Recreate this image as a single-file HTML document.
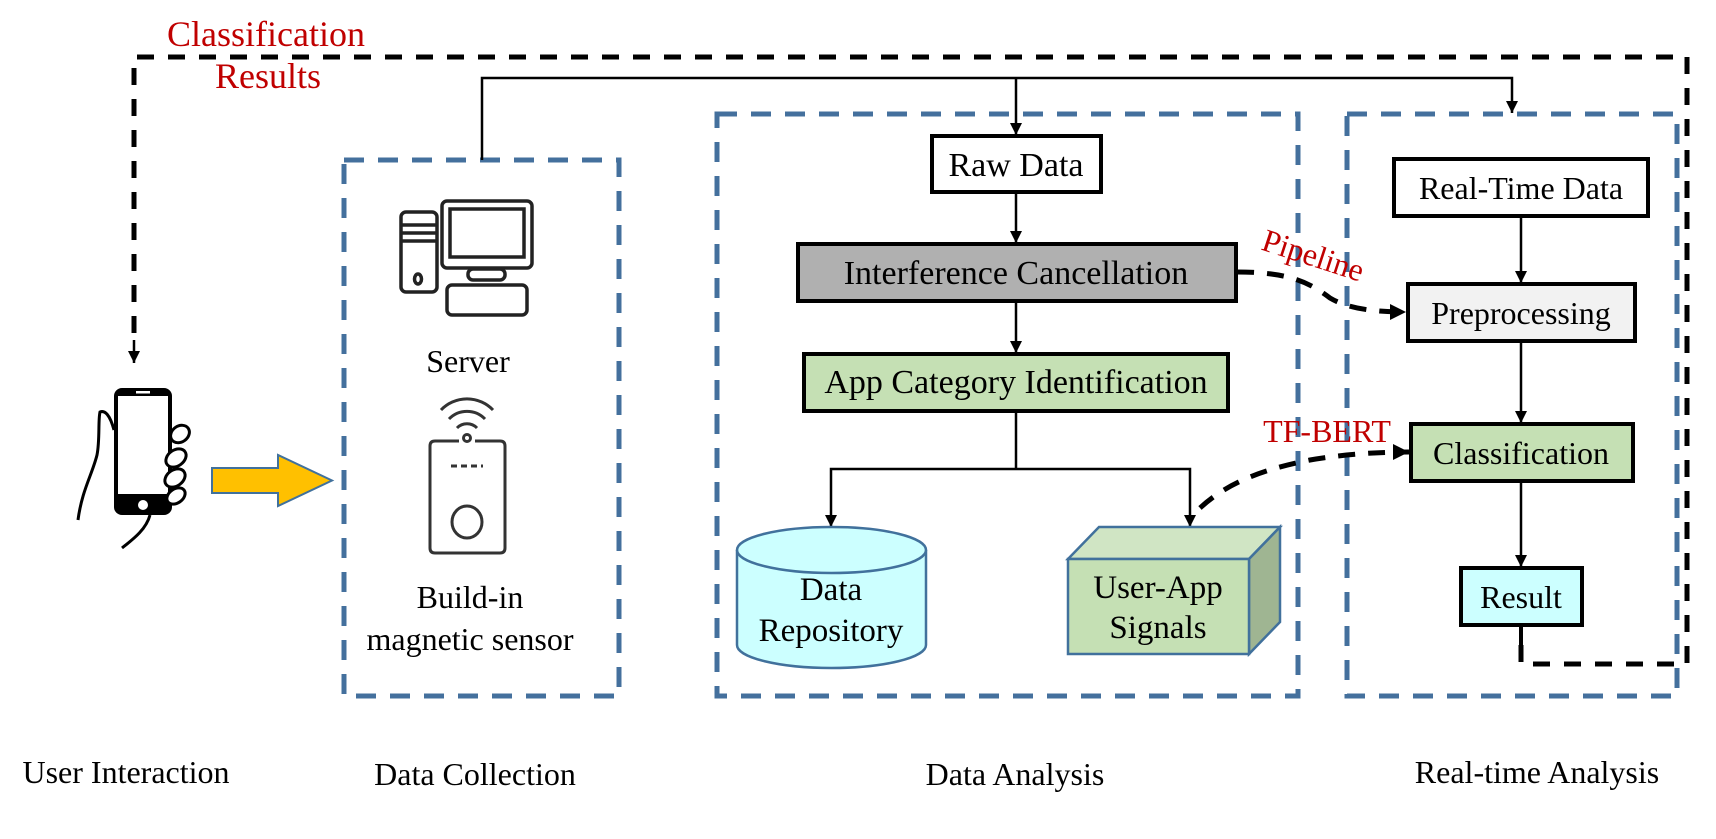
<!DOCTYPE html>
<html><head><meta charset="utf-8"><style>
html,body{margin:0;padding:0;background:#fff;}
svg{display:block;}
text{font-family:"Liberation Serif",serif;}
</style></head><body>
<svg width="1716" height="839" viewBox="0 0 1716 839" xmlns="http://www.w3.org/2000/svg">
<defs>
<marker id="ah" viewBox="0 0 10 10" refX="10" refY="5" markerWidth="12" markerHeight="14" markerUnits="userSpaceOnUse" orient="auto"><path d="M0,0 L10,5 L0,10 z" fill="#000"/></marker>
<marker id="ahb" viewBox="0 0 10 10" refX="10" refY="5" markerWidth="16" markerHeight="17" markerUnits="userSpaceOnUse" orient="auto"><path d="M0,0 L10,5 L0,10 z" fill="#000"/></marker>
</defs>

<g fill="none" stroke="#000" stroke-width="5" stroke-dasharray="17,14">
<path d="M1521,645 L1521,664 L1687,664 L1687,57 L134,57 L134,345"/>
</g>
<line x1="1521" y1="625" x2="1521" y2="645" stroke="#000" stroke-width="4"/>
<line x1="134" y1="340" x2="134" y2="363" stroke="#000" stroke-width="2.5" marker-end="url(#ah)"/>

<g fill="none" stroke="#44709d" stroke-width="5" stroke-dasharray="20,14">
<rect x="344" y="160" width="275" height="536"/>
<rect x="717" y="114" width="581" height="582"/>
<rect x="1347" y="114" width="330" height="582"/>
</g>

<path d="M482,160 L482,78 L1512,78 L1512,113" fill="none" stroke="#000" stroke-width="2.5" marker-end="url(#ah)"/>
<line x1="1016" y1="78" x2="1016" y2="135" stroke="#000" stroke-width="2.5" marker-end="url(#ah)"/>

<text x="266" y="46" font-size="36" fill="#c00000" text-anchor="middle">Classification</text>
<text x="268" y="88" font-size="36" fill="#c00000" text-anchor="middle">Results</text>

<rect x="932" y="136" width="169" height="56" fill="#fff" stroke="#000" stroke-width="4"/>
<text x="1016" y="176" font-size="34" text-anchor="middle">Raw Data</text>
<line x1="1016" y1="193" x2="1016" y2="243" stroke="#000" stroke-width="2.5" marker-end="url(#ah)"/>
<rect x="798" y="244" width="438" height="57" fill="#b0b0b0" stroke="#000" stroke-width="4"/>
<text x="1016" y="284" font-size="34" text-anchor="middle">Interference Cancellation</text>
<line x1="1016" y1="301" x2="1016" y2="353" stroke="#000" stroke-width="2.5" marker-end="url(#ah)"/>
<rect x="804" y="354" width="424" height="57" fill="#c5e0b4" stroke="#000" stroke-width="4"/>
<text x="1016" y="393" font-size="34" text-anchor="middle">App Category Identification</text>
<path d="M1016,411 L1016,469" fill="none" stroke="#000" stroke-width="2.5"/>
<path d="M1016,469 L831,469 L831,527" fill="none" stroke="#000" stroke-width="2.5" marker-end="url(#ah)"/>
<path d="M1016,469 L1190,469 L1190,527" fill="none" stroke="#000" stroke-width="2.5" marker-end="url(#ah)"/>

<path d="M737,550 L737,645 A94.5,23 0 0 0 926,645 L926,550" fill="#ccffff" stroke="#41719c" stroke-width="2.5"/>
<ellipse cx="831.5" cy="550" rx="94.5" ry="23" fill="#ccffff" stroke="#41719c" stroke-width="2.5"/>
<text x="831" y="600" font-size="33" text-anchor="middle">Data</text>
<text x="831" y="641" font-size="33" text-anchor="middle">Repository</text>

<polygon points="1068,559 1099,527 1280,527 1249,559" fill="#d0e5c4" stroke="#41719c" stroke-width="2.5"/>
<polygon points="1249,559 1280,527 1280,622 1249,654" fill="#9fb592" stroke="#41719c" stroke-width="2.5"/>
<rect x="1068" y="559" width="181" height="95" fill="#c5e0b4" stroke="#41719c" stroke-width="2.5"/>
<text x="1158" y="598" font-size="33" text-anchor="middle">User-App</text>
<text x="1158" y="638" font-size="33" text-anchor="middle">Signals</text>

<rect x="1394" y="159" width="254" height="57" fill="#fff" stroke="#000" stroke-width="4"/>
<text x="1521" y="199" font-size="32" text-anchor="middle">Real-Time Data</text>
<line x1="1521" y1="216" x2="1521" y2="283" stroke="#000" stroke-width="2.5" marker-end="url(#ah)"/>
<rect x="1408" y="284" width="227" height="57" fill="#f2f2f2" stroke="#000" stroke-width="4"/>
<text x="1521" y="324" font-size="32" text-anchor="middle">Preprocessing</text>
<line x1="1521" y1="341" x2="1521" y2="423" stroke="#000" stroke-width="2.5" marker-end="url(#ah)"/>
<rect x="1411" y="424" width="222" height="57" fill="#c5e0b4" stroke="#000" stroke-width="4"/>
<text x="1521" y="464" font-size="32" text-anchor="middle">Classification</text>
<line x1="1521" y1="481" x2="1521" y2="567" stroke="#000" stroke-width="2.5" marker-end="url(#ah)"/>
<rect x="1461" y="568" width="121" height="57" fill="#ccffff" stroke="#000" stroke-width="4"/>
<text x="1521" y="608" font-size="32" text-anchor="middle">Result</text>

<path d="M1237,272 C1290,272 1310,283 1330,298 C1350,310 1380,312 1406,312" fill="none" stroke="#000" stroke-width="5" stroke-dasharray="17,13" marker-end="url(#ahb)"/>
<text x="1313" y="266" font-size="32" fill="#c00000" text-anchor="middle" transform="rotate(18 1313 256)">Pipeline</text>

<path d="M1200,508 C1230,480 1270,468 1310,460 C1345,454 1380,452 1409,452" fill="none" stroke="#000" stroke-width="5" stroke-dasharray="17,13" marker-end="url(#ahb)"/>
<text x="1327" y="442" font-size="32" fill="#c00000" text-anchor="middle">TF-BERT</text>

<polygon points="212,468 278,468 278,455 332,480.5 278,506 278,493 212,493" fill="#ffc000" stroke="#41719c" stroke-width="2"/>

<g fill="none" stroke="#222" stroke-width="3.5">
<rect x="401" y="212" width="36" height="80" rx="5"/>
<line x1="402" y1="225" x2="436" y2="225"/>
<line x1="402" y1="233" x2="436" y2="233"/>
<line x1="402" y1="241" x2="436" y2="241"/>
<ellipse cx="418" cy="279" rx="3.5" ry="5"/>
<rect x="442" y="201" width="90" height="67" rx="5"/>
<rect x="450" y="209" width="74" height="48"/>
<rect x="468" y="269" width="37" height="11" rx="5"/>
<rect x="447" y="285" width="80" height="30" rx="5"/>
</g>
<text x="468" y="372" font-size="32" text-anchor="middle">Server</text>

<g fill="none" stroke="#333" stroke-width="3">
<path d="M457,428 A14,14 0 0 1 477,428"/>
<path d="M449,419 A25,25 0 0 1 485,419"/>
<path d="M441,410 A36,36 0 0 1 493,410"/>
<circle cx="467" cy="438" r="3.5"/>
<path d="M459,441 L435,441 Q430,441 430,446 L430,548 Q430,553 435,553 L500,553 Q505,553 505,548 L505,446 Q505,441 500,441 L475,441"/>
<ellipse cx="467" cy="522" rx="15" ry="16"/>
<line x1="451" y1="466" x2="483" y2="466" stroke-dasharray="6,4"/>
</g>
<text x="470" y="608" font-size="32" text-anchor="middle">Build-in</text>
<text x="470" y="650" font-size="32" text-anchor="middle">magnetic sensor</text>

<g>
<rect x="114" y="388" width="58" height="127" rx="8" fill="#000"/>
<rect x="118" y="396" width="50" height="98" fill="#fff"/>
<rect x="136" y="391" width="14" height="2.5" fill="#fff"/>
<circle cx="143" cy="505" r="5" fill="#fff"/>
<g fill="#fff" stroke="#000" stroke-width="3">
<ellipse cx="180" cy="434" rx="10" ry="8" transform="rotate(-35 180 434)"/>
<ellipse cx="176" cy="458" rx="11" ry="8" transform="rotate(-35 176 458)"/>
<ellipse cx="175" cy="478" rx="11" ry="8" transform="rotate(-35 175 478)"/>
<ellipse cx="176" cy="496" rx="10" ry="7" transform="rotate(-35 176 496)"/>
</g>
<path d="M114,430 C110,415 105,410 100,412 C98,420 100,440 97,455 C92,475 82,490 78,520" fill="none" stroke="#000" stroke-width="3"/>
<path d="M150,515 C146,530 132,540 122,548" fill="none" stroke="#000" stroke-width="3"/>
</g>

<text x="126" y="783" font-size="32" text-anchor="middle">User Interaction</text>
<text x="475" y="785" font-size="32" text-anchor="middle">Data Collection</text>
<text x="1015" y="785" font-size="32" text-anchor="middle">Data Analysis</text>
<text x="1537" y="783" font-size="32" text-anchor="middle">Real-time Analysis</text>
</svg>
</body></html>
